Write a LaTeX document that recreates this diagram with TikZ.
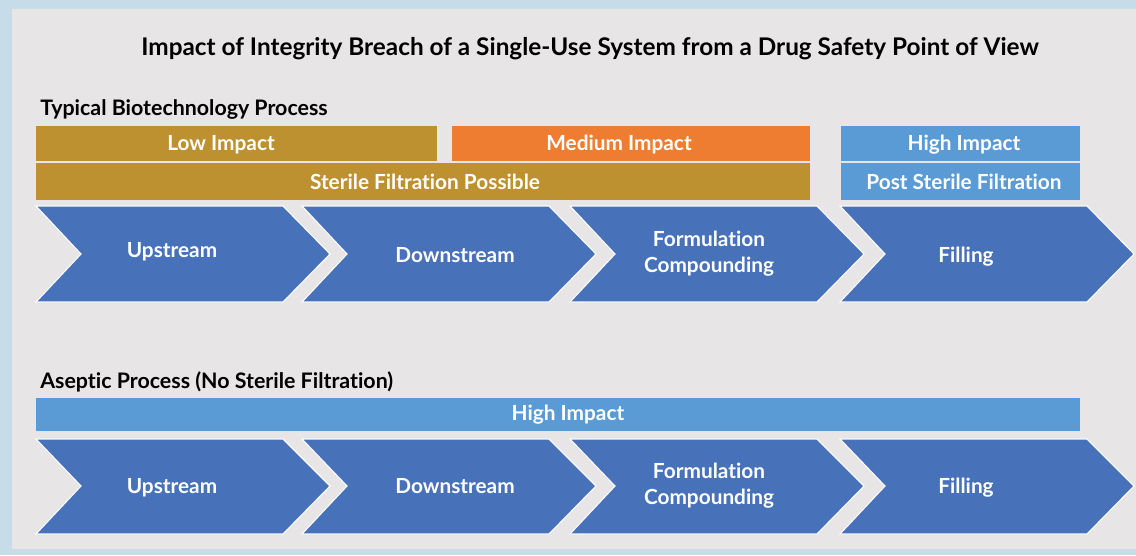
\documentclass[tikz,border=0pt]{standalone}
\usepackage{fontspec}
\setmainfont{Lato}[Ligatures=CommonOff]
\usepackage{xcolor}

\definecolor{frameblue}{HTML}{C6DCE8}
\definecolor{panelgray}{HTML}{E8E5E6}
\definecolor{lowgold}{HTML}{BD912F}
\definecolor{midorange}{HTML}{EE7D31}
\definecolor{highblue}{HTML}{5B9BD5}
\definecolor{stepblue}{HTML}{4771B9}

\begin{document}
\begin{tikzpicture}[x=0.025cm,y=-0.025cm,
  title/.style={font=\bfseries\fontsize{17.3}{20}\selectfont,inner sep=0pt},
  heading/.style={font=\bfseries\fontsize{15.2}{18}\selectfont,anchor=base west,inner sep=0pt},
  bartext/.style={font=\bfseries\fontsize{14.8}{17}\selectfont,text=white,anchor=base,inner sep=0pt},
  steptext/.style={font=\bfseries\fontsize{14.8}{18.5}\selectfont,text=white,align=center,inner sep=0pt},
  chevron/.style={fill=stepblue,draw=white!80!panelgray,line width=0.8pt,line join=miter}]
% frame and panel
\fill[frameblue] (0,0) rectangle (1136,555);
\fill[panelgray] (12,9) rectangle (1136,549);

\node[title,anchor=base] (head) at (590,55) {Impact of Integrity Breach of a Single-Use System from a Drug Safety Point of View};

% typical process
\node[heading] (typical) at (40,115) {Typical Biotechnology Process};
\fill[lowgold] (36,126) rectangle (437,161);
\fill[midorange] (452,126) rectangle (810,161);
\fill[highblue] (841,126) rectangle (1080,161);
\fill[lowgold] (36,163) rectangle (810,200);
\fill[highblue] (841,163) rectangle (1080,200);
\node[bartext] (low) at (221,150) {Low Impact};
\node[bartext] (medium) at (619,150) {Medium Impact};
\node[bartext] (high) at (964,150) {High Impact};
\node[bartext] (sterile) at (425,189) {Sterile Filtration Possible};
\node[bartext] (post) at (964,189) {Post Sterile Filtration};

\foreach \x in {36,302,570,840}
  \draw[chevron] (\x,206) -- (\x+247,206) -- (\x+294,254) -- (\x+247,302)
    -- (\x,302) -- (\x+45,254) -- cycle;
\node[steptext,anchor=base] (up1) at (172,257) {Upstream};
\node[steptext,anchor=base] (down1) at (455,262) {Downstream};
\node[steptext] (form1) at (709,254) {Formulation\\Compounding};
\node[steptext,anchor=base] (fill1) at (966,262) {Filling};

% aseptic process
\node[heading] (aseptic) at (40,388) {Aseptic Process (No Sterile Filtration)};
\fill[highblue] (36,398) rectangle (1080,431);
\node[bartext] (high2) at (568,420) {High Impact};

\foreach \x in {36,302,570,840}
  \draw[chevron] (\x,439) -- (\x+247,439) -- (\x+294,486) -- (\x+247,534)
    -- (\x,534) -- (\x+45,486) -- cycle;
\node[steptext,anchor=base] (up2) at (172,493) {Upstream};
\node[steptext,anchor=base] (down2) at (455,493) {Downstream};
\node[steptext] (form2) at (709,486) {Formulation\\Compounding};
\node[steptext,anchor=base] (fill2) at (966,493) {Filling};
\end{tikzpicture}
\end{document}
